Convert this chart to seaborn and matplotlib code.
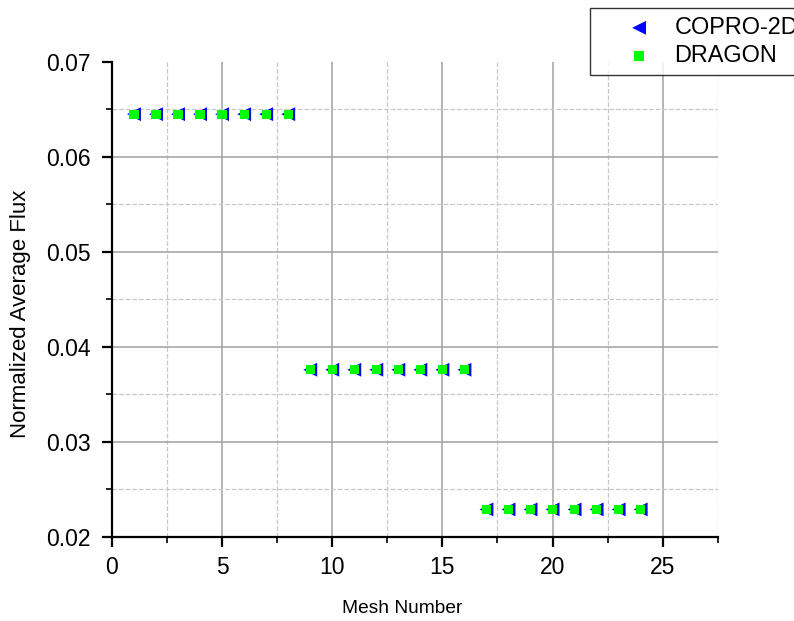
import matplotlib
matplotlib.use("Agg")
import matplotlib.pyplot as plt
import seaborn as sns
import numpy as np
import pandas as pd
from matplotlib.ticker import MultipleLocator

mesh = list(range(1, 25))
copro = [0.0645]*8 + [0.0376]*8 + [0.0229]*8
dragon = [0.0645]*8 + [0.0376]*8 + [0.0229]*8

df = pd.DataFrame({"Mesh": mesh, "COPRO-2D": copro, "DRAGON": dragon})

sns.set_style("white")
plt.rcParams['font.family'] = ['Liberation Sans', 'DejaVu Sans']
plt.rcParams['text.color'] = 'black'
plt.rcParams['axes.labelcolor'] = 'black'
plt.rcParams['xtick.color'] = 'black'
plt.rcParams['ytick.color'] = 'black'

fig = plt.figure(figsize=(7.94, 6.21), dpi=100)
ax = fig.add_axes([0.141, 0.1353, 0.763, 0.765])

sns.scatterplot(data=df, x="Mesh", y="COPRO-2D", marker="<", color="#0000ff", s=100,
                edgecolor="none", ax=ax, label="COPRO-2D", zorder=3)
sns.scatterplot(data=df, x="Mesh", y="DRAGON", marker="s", color="#00ff00", s=44,
                edgecolor="none", ax=ax, label="DRAGON", zorder=4)

ax.set_xlim(0, 27.5)
ax.set_ylim(0.02, 0.07)
ax.xaxis.set_minor_locator(MultipleLocator(2.5))
ax.yaxis.set_minor_locator(MultipleLocator(0.005))
ax.set_xticks([0, 5, 10, 15, 20, 25])
ax.set_xticklabels(["0", "5", "10", "15", "20", "25"])
ax.set_yticks([0.02, 0.03, 0.04, 0.05, 0.06, 0.07])
ax.set_yticklabels(["0.02", "0.03", "0.04", "0.05", "0.06", "0.07"])

ax.grid(True, which="major", color="#a0a0a0", linestyle="-", linewidth=1.1)
ax.grid(True, which="minor", color="#c8c8c8", linestyle="--", linewidth=0.9)
ax.set_axisbelow(True)
ax.yaxis.get_major_ticks()[-1].gridline.set_visible(False)
ax.xaxis.get_major_ticks()[0].gridline.set_visible(False)

for s in ["top", "right"]:
    ax.spines[s].set_visible(False)
for s in ["left", "bottom"]:
    ax.spines[s].set_color("black")
    ax.spines[s].set_linewidth(1.6)

ax.tick_params(axis="both", which="major", direction="out", length=7.5, width=1.6,
               labelsize=16.5, color="black", bottom=True, left=True, pad=6)
ax.tick_params(axis="y", which="major", pad=8)
ax.tick_params(axis="both", which="minor", direction="out", length=4, width=1.2,
               color="black", bottom=True, left=True)

ax.set_xlabel("Mesh Number", fontsize=13.8, labelpad=15)
ax.xaxis.label.set_x(0.479)
ax.set_ylabel("Normalized Average Flux", fontsize=16, labelpad=11)
ax.yaxis.label.set_y(0.47)

ax.get_legend().remove()
handles, labels = ax.get_legend_handles_labels()
leg = fig.legend(handles, labels, loc="upper left", bbox_to_anchor=(590/794, 1 - 8/621),
                 frameon=True, fancybox=False, fontsize=16.9, borderpad=0.34,
                 handlelength=3.5, handletextpad=-0.25, labelspacing=0.22,
                 borderaxespad=0.0, markerscale=1.0)
leg.get_frame().set_edgecolor("black")
leg.get_frame().set_linewidth(1.0)

fig.savefig("out.png", dpi=100)
